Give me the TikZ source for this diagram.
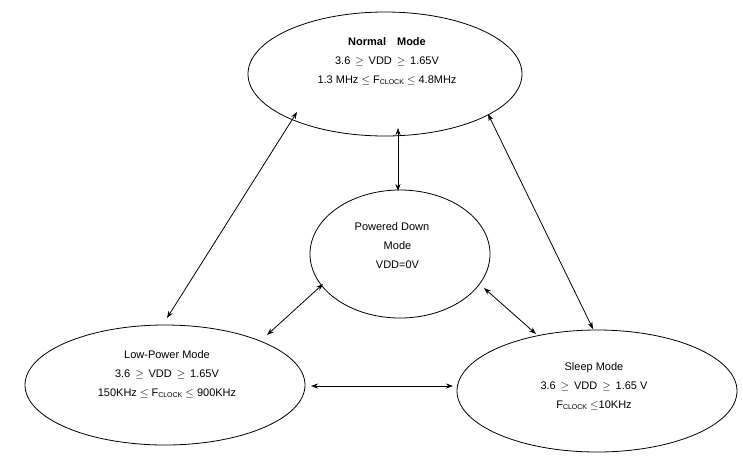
\documentclass[tikz,border=0pt]{standalone}
\usepackage{fontspec}
\setmainfont{Liberation Sans}
\usetikzlibrary{arrows.meta}
\newcommand{\fclk}{F\raisebox{-0.3ex}{\scriptsize CLOCK}}
\begin{document}
\begin{tikzpicture}[x=1pt,y=-1pt,
  st/.style={draw,line width=0.8pt},
  lb/.style={align=center,font=\fontsize{11}{19}\selectfont},
  ar/.style={{Stealth[length=7pt,width=5pt]}-{Stealth[length=7pt,width=5pt]},line width=0.8pt}]
\useasboundingbox (0,0) rectangle (743,456);
\draw[st] (385,74) ellipse (137 and 62);
\draw[st] (400,254) ellipse (90 and 64);
\draw[st] (165,385) ellipse (140 and 60);
\draw[st] (597,391) ellipse (140 and 61);
\node[lb] (n) at (387,61) {\textbf{Normal\quad Mode}\\3.6 \,$\geq$\, VDD \,$\geq$\, 1.65V\\1.3 MHz $\leq$ \fclk{} $\leq$ 4.8MHz};
\node[lb] (p) at (392,246) {Powered Down\\\quad Mode\\\quad VDD=0V};
\node[lb] (l) at (167,374) {Low-Power Mode\\3.6 \,$\geq$\, VDD \,$\geq$\, 1.65V\\150KHz $\leq$ \fclk{} $\leq$ 900KHz};
\node[lb] (s) at (594,386) {Sleep Mode\\3.6 \,$\geq$\, VDD \,$\geq$\, 1.65 V\\\fclk{} $\leq$10KHz};
\coordinate (a1) at (297,112); \coordinate (a2) at (167,318);
\coordinate (b1) at (398,128); \coordinate (b2) at (398,191);
\coordinate (c1) at (488,114); \coordinate (c2) at (593,329);
\coordinate (d1) at (323,284); \coordinate (d2) at (267,335);
\coordinate (e1) at (484,288); \coordinate (e2) at (536,334);
\coordinate (f1) at (311,386); \coordinate (f2) at (453,386);
\draw[ar] (a1) -- (a2);
\draw[ar] (b1) -- (b2);
\draw[ar] (c1) -- (c2);
\draw[ar] (d1) -- (d2);
\draw[ar] (e1) -- (e2);
\draw[ar] (f1) -- (f2);
\end{tikzpicture}
\end{document}
